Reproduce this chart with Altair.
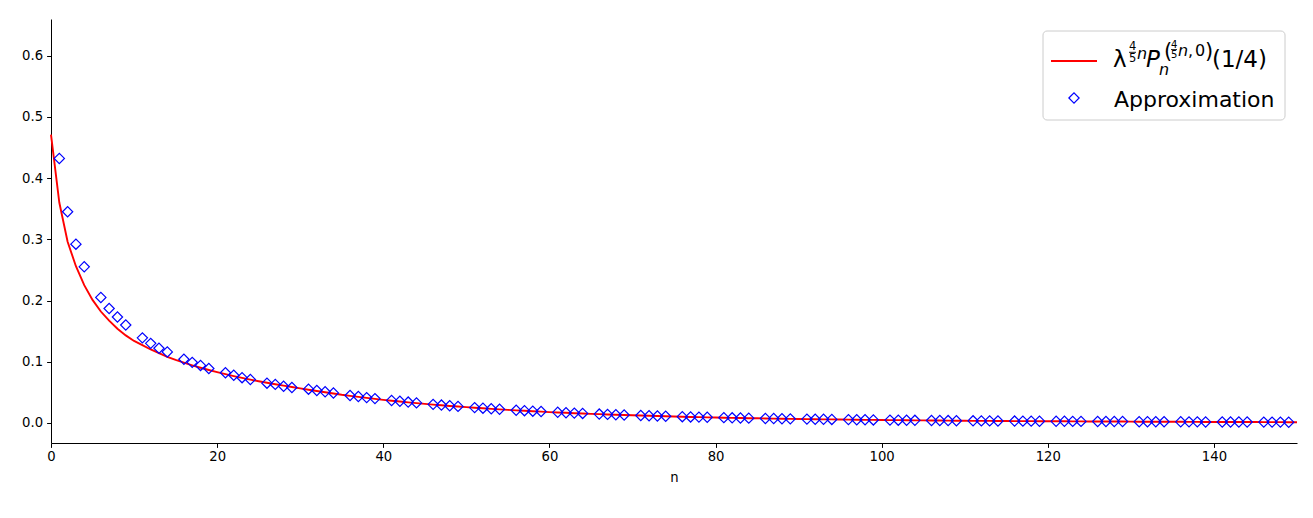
import altair as alt
import pandas as pd

# ---- data ----
line_n = list(range(0, 151))
line_v = [
    0.471, 0.360, 0.296, 0.256, 0.225, 0.201, 0.182, 0.167, 0.154, 0.143,
    0.134, 0.127, 0.120, 0.114, 0.108, 0.103, 0.0985, 0.0942, 0.0902, 0.0865,
    0.0830, 0.0797, 0.0766, 0.0736, 0.0708, 0.0681, 0.0656, 0.0632, 0.0609, 0.0587,
    0.0565, 0.0543, 0.0522, 0.0502, 0.0482, 0.0460, 0.0443, 0.0426, 0.0409, 0.0393,
    0.0378, 0.0364, 0.0350, 0.0337, 0.0324, 0.0312, 0.0300, 0.0289, 0.0278, 0.0268,
    0.0258, 0.0249, 0.0240, 0.0231, 0.0222, 0.0214, 0.0206, 0.0199, 0.0192, 0.0185,
    0.0178, 0.0172, 0.0166, 0.0160, 0.0154, 0.0149, 0.0144, 0.0139, 0.0134, 0.0130,
    0.0125, 0.0121, 0.0117, 0.0113, 0.0109, 0.0105, 0.0102, 0.0098, 0.0095, 0.0092,
    0.0089, 0.0086, 0.0083, 0.0081, 0.0078, 0.0076, 0.0074, 0.0071, 0.0069, 0.0067,
    0.0065, 0.0063, 0.0061, 0.0059, 0.0058, 0.0056, 0.0054, 0.0053, 0.0051, 0.0050,
    0.0048, 0.0047, 0.0046, 0.0044, 0.0043, 0.0042, 0.0041, 0.0040, 0.0038, 0.0037,
    0.0036, 0.0035, 0.0034, 0.0034, 0.0033, 0.0032, 0.0031, 0.0030, 0.0030, 0.0029,
    0.0028, 0.0027, 0.0027, 0.0026, 0.0026, 0.0025, 0.0024, 0.0024, 0.0023, 0.0023,
    0.0022, 0.0021, 0.0021, 0.0020, 0.0020, 0.0019, 0.0019, 0.0018, 0.0018, 0.0017,
    0.0017, 0.0016, 0.0016, 0.0016, 0.0015, 0.0015, 0.0014, 0.0014, 0.0014, 0.0013,
    0.0013,
]

approx_n = [
    1, 2, 3, 4, 6, 7, 8, 9, 11, 12, 13, 14, 16, 17, 18, 19, 21, 22, 23, 24,
    26, 27, 28, 29, 31, 32, 33, 34, 36, 37, 38, 39, 41, 42, 43, 44, 46, 47, 48, 49,
    51, 52, 53, 54, 56, 57, 58, 59, 61, 62, 63, 64, 66, 67, 68, 69, 71, 72, 73, 74,
    76, 77, 78, 79, 81, 82, 83, 84, 86, 87, 88, 89, 91, 92, 93, 94, 96, 97, 98, 99,
    101, 102, 103, 104, 106, 107, 108, 109, 111, 112, 113, 114, 116, 117, 118, 119,
    121, 122, 123, 124, 126, 127, 128, 129, 131, 132, 133, 134, 136, 137, 138, 139,
    141, 142, 143, 144, 146, 147, 148, 149,
]
approx_v = [
    0.432, 0.345, 0.292, 0.255, 0.205, 0.187, 0.173, 0.160, 0.139, 0.130, 0.122, 0.116,
    0.104, 0.099, 0.094, 0.089, 0.082, 0.078, 0.074, 0.071, 0.065, 0.063, 0.060, 0.058,
    0.0552, 0.0530, 0.0509, 0.0489, 0.0449, 0.0432, 0.0414, 0.0398, 0.0368, 0.0354, 0.0341, 0.0328,
    0.0304, 0.0292, 0.0281, 0.0271, 0.0251, 0.0242, 0.0233, 0.0224, 0.0208, 0.0201, 0.0193, 0.0187,
    0.0174, 0.0167, 0.0161, 0.0156, 0.0145, 0.0140, 0.0135, 0.0131, 0.0122, 0.0118, 0.0114, 0.0110,
    0.0103, 0.0099, 0.0096, 0.0093, 0.0087, 0.0084, 0.0081, 0.0079, 0.0074, 0.0072, 0.0069, 0.0067,
    0.0063, 0.0061, 0.0060, 0.0058, 0.0055, 0.0053, 0.0052, 0.0050, 0.0047, 0.0046, 0.0045, 0.0043,
    0.0041, 0.0040, 0.0039, 0.0037, 0.0035, 0.0034, 0.0034, 0.0033, 0.0031, 0.0030, 0.0030, 0.0029,
    0.0027, 0.0027, 0.0026, 0.0026, 0.0024, 0.0024, 0.0023, 0.0023, 0.0021, 0.0021, 0.0020, 0.0020,
    0.0019, 0.0018, 0.0018, 0.0017, 0.0016, 0.0016, 0.0016, 0.0015, 0.0014, 0.0014, 0.0014, 0.0013,
]

x_ticks = [0, 20, 40, 60, 80, 100, 120, 140]
y_ticks = [0.0, 0.1, 0.2, 0.3, 0.4, 0.5, 0.6]
x_title = "n"
legend_label2 = "Approximation"

FONT = "DejaVu Sans"
W, H = 1246, 424
OX, OY = 51, 19  # plot origin in page pixels

line_df = pd.DataFrame({"n": line_n, "v": line_v})
pts_df = pd.DataFrame({"n": approx_n, "v": approx_v})

xscale = alt.Scale(domain=[0, 150], nice=False, zero=False)
yscale = alt.Scale(domain=[-0.0327, 0.6597], nice=False, zero=False)

xaxis = alt.Axis(values=x_ticks, format="d", title=x_title, grid=False,
                 domainColor="black", tickColor="black", labelColor="black",
                 tickSize=4.4, tickWidth=1, domainWidth=1, labelFont=FONT,
                 labelFontSize=13.2, labelPadding=3, titleFont=FONT,
                 titleFontSize=13.2, titleFontWeight="normal", titleColor="black",
                 titlePadding=9, labelFlush=False)
yaxis = alt.Axis(values=y_ticks, format=".1f", title=None, grid=False,
                 domainColor="black", tickColor="black", labelColor="black",
                 tickSize=4.4, tickWidth=1, domainWidth=1, labelFont=FONT,
                 labelFontSize=13.2, labelPadding=4, labelFlush=False)

line = alt.Chart(line_df).mark_line(color="red", strokeWidth=1.9).encode(
    x=alt.X("n:Q", scale=xscale, axis=xaxis),
    y=alt.Y("v:Q", scale=yscale, axis=yaxis),
)
pts = alt.Chart(pts_df).mark_point(shape="diamond", filled=False, color="blue",
                                   size=105, strokeWidth=1.2, opacity=1).encode(
    x=alt.X("n:Q", scale=xscale),
    y=alt.Y("v:Q", scale=yscale),
)


def one():
    return alt.Data(values=[{"k": 1}])


def txt(s, px, py, size, italic=False):
    return alt.Chart(one()).mark_text(
        align="left", baseline="alphabetic", fontSize=size, font=FONT,
        fontStyle="italic" if italic else "normal", color="black",
    ).encode(x=alt.value(px - OX), y=alt.value(py - OY), text=alt.value(s))


def hrule(x1, x2, y, color="black", width=1.0):
    return alt.Chart(one()).mark_rule(color=color, strokeWidth=width).encode(
        x=alt.value(x1 - OX), x2=alt.value(x2 - OX), y=alt.value(y - OY))


legend_box = alt.Chart(one()).mark_rect(
    fill="white", fillOpacity=0.8, stroke="#cccccc", strokeWidth=1, cornerRadius=4
).encode(x=alt.value(1043 - OX), x2=alt.value(1285 - OX),
         y=alt.value(31 - OY), y2=alt.value(120 - OY))

legend_line = hrule(1051, 1097, 61, color="red", width=1.9)
legend_pt = alt.Chart(one()).mark_point(shape="diamond", filled=False, color="blue",
                                        size=105, strokeWidth=1.2, opacity=1).encode(
    x=alt.value(1074 - OX), y=alt.value(98 - OY))

math = [
    txt("λ", 1113, 67, 23),
    txt("4", 1129, 50, 11.5),
    hrule(1129, 1136, 52.3, width=0.9),
    txt("5", 1129, 61.5, 11.5),
    txt("n", 1137, 59, 16, italic=True),
    txt("P", 1146, 67, 23, italic=True),
    txt("n", 1159, 74.5, 16, italic=True),
    txt("(", 1164, 58, 21),
    txt("4", 1171, 47.5, 10),
    hrule(1171, 1177, 49.5, width=0.8),
    txt("5", 1171, 58, 10),
    txt("n", 1178, 55.5, 16, italic=True),
    txt(",", 1188, 55.5, 16),
    txt("0", 1195, 55.5, 16),
    txt(")", 1205, 58, 21),
    txt("(1/4)", 1212, 67, 23),
]
label2 = txt(legend_label2, 1114, 107, 22)

chart = alt.layer(line, pts, legend_box, legend_line, legend_pt, *math, label2).properties(
    width=W, height=H,
    background="white",
    autosize=alt.AutoSizeParams(type="none"),
    padding={"left": OX - 8, "top": OY - 8, "right": 8, "bottom": 50},
).configure_view(strokeWidth=0, stroke=None)

chart.save("out.html", embed_options={"renderer": "svg", "actions": False})
